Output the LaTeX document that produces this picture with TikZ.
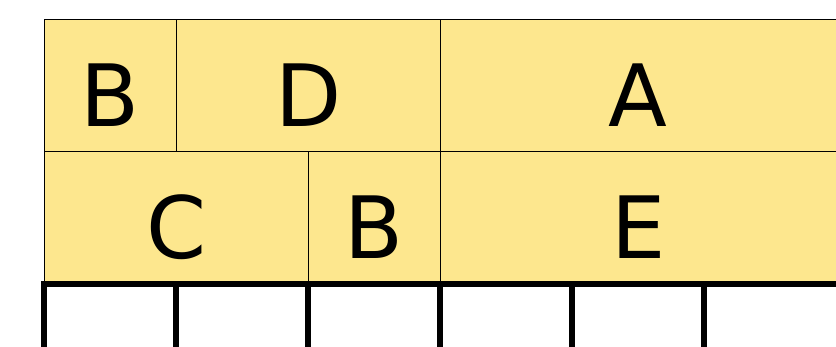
\documentclass[tikz,border=0pt]{standalone}
\usepackage{fontspec}
\setmainfont{DejaVu Sans}
\definecolor{yfill}{RGB}{253,231,142}
\begin{document}
\begin{tikzpicture}[x=1pt,y=-1pt,
  box/.style={draw=black, line width=0.8pt, fill=yfill, inner sep=0pt,
    minimum height=132pt, text height=82pt, text depth=0pt,
    font=\fontsize{86}{86}\selectfont, anchor=north west},
  slot/.style={line width=6pt, draw=black, line join=miter}]
\useasboundingbox (0,0) rectangle (836,347);
\clip (0,0) rectangle (836,347);
% top row
\node[box, minimum width=132pt] (b1) at (44,19) {B};
\node[box, minimum width=264pt] (d) at (176,19) {D};
\node[box, minimum width=396pt] (a) at (440,19) {A};
% bottom row
\node[box, minimum width=264pt] (c) at (44,151) {C};
\node[box, minimum width=132pt] (b2) at (308,151) {B};
\node[box, minimum width=396pt] (e) at (440,151) {E};
% slots
\draw[slot] (44,370) -- (44,284) -- (850,284);
\foreach \x in {176,308,440,572,704}
  \draw[slot] (\x,284) -- (\x,370);
\end{tikzpicture}
\end{document}
